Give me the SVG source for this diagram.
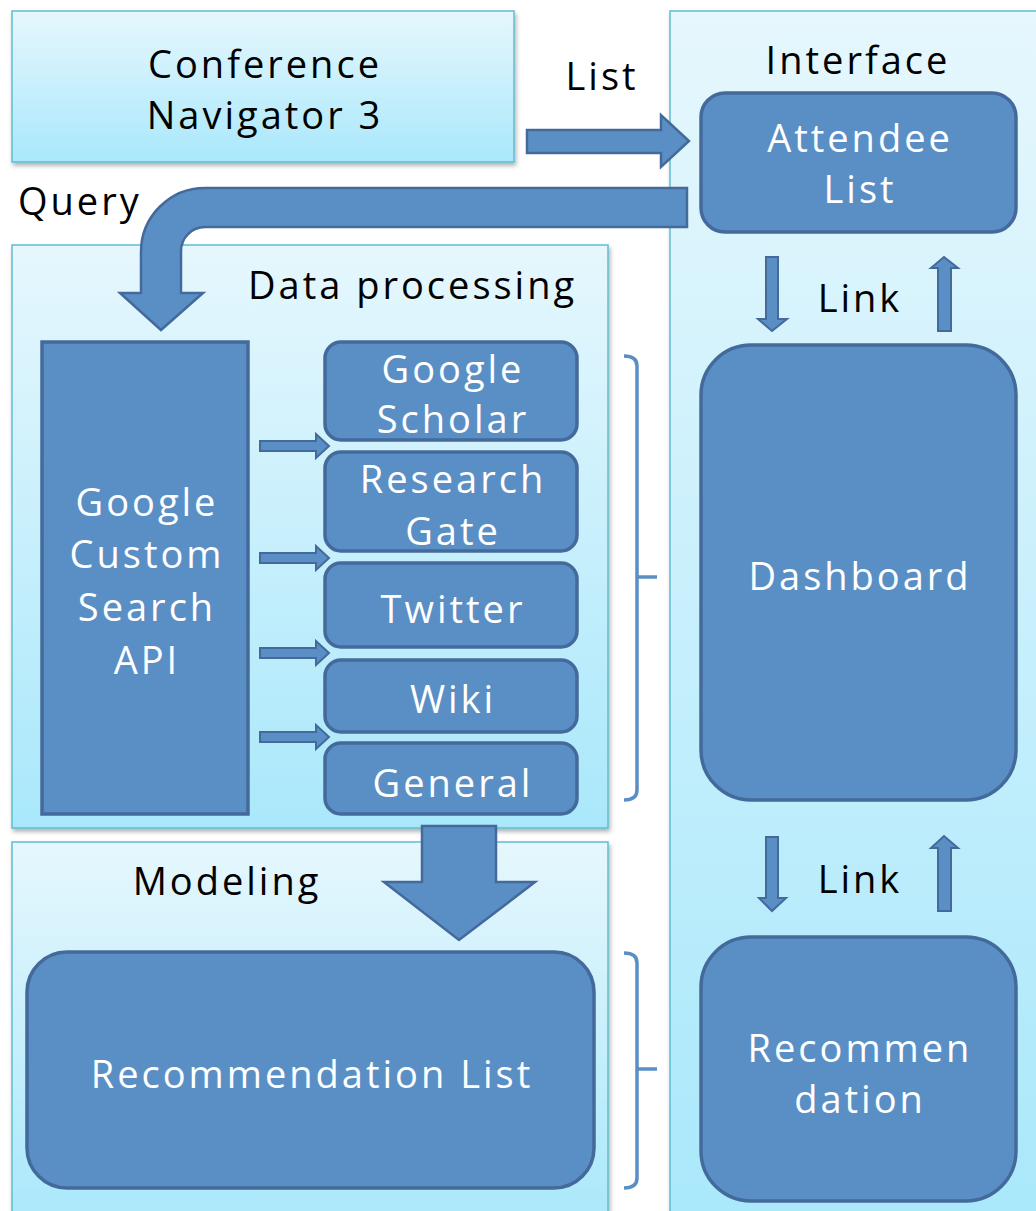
<svg xmlns="http://www.w3.org/2000/svg" width="1036" height="1211" viewBox="0 0 1036 1211">
<style>
.panel{stroke:#5fbdd2;stroke-width:1.5;filter:url(#sh)}
.box{fill:#5a8fc6;stroke:#44699b;stroke-width:3.5}
.arr{fill:#5a8fc6;stroke:#44699b;stroke-width:2.5;stroke-linejoin:miter}
.sarr{fill:#5a8fc6;stroke:#44699b;stroke-width:2}
.brk{fill:none;stroke:#5a8fc6;stroke-width:3.5}
text{font-family:"Open Sans","Noto Sans","DejaVu Sans",sans-serif;font-size:38px;letter-spacing:3px}
.w{fill:#ffffff;text-anchor:middle}
.k{fill:#000000}
.c{text-anchor:middle}
</style>
<defs>
<linearGradient id="g" x1="0" y1="0" x2="0" y2="1">
<stop offset="0" stop-color="#e6f7fd"/>
<stop offset="1" stop-color="#a9e8fb"/>
</linearGradient>
<filter id="sh" x="-5%" y="-5%" width="110%" height="110%">
<feDropShadow dx="1.5" dy="3" stdDeviation="2" flood-color="#000" flood-opacity="0.3"/>
</filter>
</defs>

<g id="conference-navigator">
<rect class="panel" x="12" y="11" width="502" height="151" fill="url(#g)"/>
<text class="k c" x="265" y="78">Conference</text>
<text class="k c" x="265" y="129">Navigator 3</text>
</g>

<g id="interface">
<rect class="panel" x="670" y="11" width="380" height="1215" fill="url(#g)"/>
<text class="k c" x="858" y="74">Interface</text>
</g>

<g id="data-processing">
<rect class="panel" x="12" y="245" width="596" height="583" fill="url(#g)"/>
<text class="k" x="248" y="299">Data processing</text>
</g>

<g id="modeling">
<rect class="panel" x="12" y="842" width="596" height="385" fill="url(#g)"/>
<text class="k c" x="227" y="895">Modeling</text>
</g>

<g id="attendee-list">
<rect class="box" x="701" y="93" width="315" height="139" rx="24"/>
<text class="w" x="860" y="152">Attendee</text>
<text class="w" x="860" y="203">List</text>
</g>

<g id="dashboard">
<rect class="box" x="701" y="345" width="315" height="455" rx="50"/>
<text class="w" x="860" y="590">Dashboard</text>
</g>

<g id="recommendation">
<rect class="box" x="701" y="937" width="315" height="264" rx="50"/>
<text class="w" x="860" y="1062">Recommen</text>
<text class="w" x="860" y="1113">dation</text>
</g>

<g id="google-custom-search-api">
<rect class="box" x="42" y="342" width="206" height="472"/>
<text class="w" x="147" y="516">Google</text>
<text class="w" x="147" y="568">Custom</text>
<text class="w" x="147" y="621">Search</text>
<text class="w" x="147" y="674">API</text>
</g>

<g id="google-scholar">
<rect class="box" x="325" y="342" width="252" height="98" rx="16"/>
<text class="w" x="453" y="383">Google</text>
<text class="w" x="453" y="433">Scholar</text>
</g>

<g id="research-gate">
<rect class="box" x="325" y="452" width="252" height="99" rx="16"/>
<text class="w" x="453" y="493">Research</text>
<text class="w" x="453" y="545">Gate</text>
</g>

<g id="twitter">
<rect class="box" x="325" y="563" width="252" height="84" rx="16"/>
<text class="w" x="453" y="623">Twitter</text>
</g>

<g id="wiki">
<rect class="box" x="325" y="660" width="252" height="72" rx="16"/>
<text class="w" x="453" y="713">Wiki</text>
</g>

<g id="general">
<rect class="box" x="325" y="743" width="252" height="71" rx="16"/>
<text class="w" x="453" y="797">General</text>
</g>

<g id="recommendation-list">
<rect class="box" x="27" y="952" width="567" height="236" rx="40"/>
<text class="w" x="312" y="1088">Recommendation List</text>
</g>

<g id="connectors">
<path class="arr" d="M527 130 H661 V115 L689 141 L661 167 V153 H527 Z"/>
<text class="k c" x="602" y="90">List</text>
<path class="arr" d="M687 188 H205 A64 64 0 0 0 141 252 V293 H120 L161 330 L203 293 H181 V251 A24 24 0 0 1 205 227 H687 Z"/>
<text class="k" x="18" y="215">Query</text>
<path class="arr" d="M422 826 H496 V882 H535 L459 940 L384 882 H422 Z"/>
<path class="sarr" d="M260 441 H316 V434 L329 446 L316 458 V451 H260 Z"/>
<path class="sarr" d="M260 553 H316 V546 L329 558 L316 570 V563 H260 Z"/>
<path class="sarr" d="M260 648 H316 V641 L329 653 L316 665 V658 H260 Z"/>
<path class="sarr" d="M260 732 H316 V725 L329 737 L316 749 V742 H260 Z"/>
<path class="sarr" d="M766 257 H778 V319 H787 L772 331 L758 319 H766 Z"/>
<path class="sarr" d="M938 331 V268 H931 L944 257 L958 268 H951 V331 Z"/>
<text class="k c" x="860" y="312">Link</text>
<path class="sarr" d="M766 837 H778 V898 H786 L772 911 L759 898 H766 Z"/>
<path class="sarr" d="M938 911 V848 H931 L944 836 L958 848 H951 V911 Z"/>
<text class="k c" x="860" y="893">Link</text>
<path class="brk" d="M624 356 Q637 356 637 366 V790 Q637 800 624 800 M637 577 H657"/>
<path class="brk" d="M624 953 Q637 953 637 963 V1178 Q637 1188 624 1188 M637 1069 H657"/>
</g>
</svg>
